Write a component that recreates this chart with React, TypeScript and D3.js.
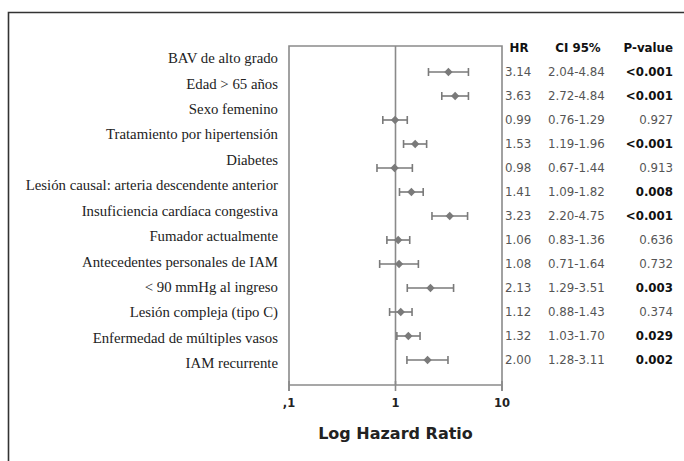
import React from "react";
import * as d3 from "d3";

const labels = [
  "BAV de alto grado",
  "Edad > 65 años",
  "Sexo femenino",
  "Tratamiento por hipertensión",
  "Diabetes",
  "Lesión causal: arteria descendente anterior",
  "Insuficiencia cardíaca congestiva",
  "Fumador actualmente",
  "Antecedentes personales de IAM",
  "< 90 mmHg al ingreso",
  "Lesión compleja (tipo C)",
  "Enfermedad de múltiples vasos",
  "IAM recurrente",
];
const hr = [3.14, 3.63, 0.99, 1.53, 0.98, 1.41, 3.23, 1.06, 1.08, 2.13, 1.12, 1.32, 2.0];
const ciLow = [2.04, 2.72, 0.76, 1.19, 0.67, 1.09, 2.2, 0.83, 0.71, 1.29, 0.88, 1.03, 1.28];
const ciHigh = [4.84, 4.84, 1.29, 1.96, 1.44, 1.82, 4.75, 1.36, 1.64, 3.51, 1.43, 1.7, 3.11];
const pValues = ["<0.001", "<0.001", "0.927", "<0.001", "0.913", "0.008", "<0.001", "0.636", "0.732", "0.003", "0.374", "0.029", "0.002"];
const pBold = [true, true, false, true, false, true, true, false, false, true, false, true, true];
const tickValues = [0.1, 1, 10];
const tickLabels = [",1", "1", "10"];
const headers = ["HR", "CI 95%", "P-value"];

export default function App() {
  const W = 684, H = 461;
  const x = d3.scaleLog().domain([0.1, 10]).range([289, 502]);
  const idx = labels.map((_, i) => i);
  const y = d3.scalePoint<number>().domain(idx).range([72, 360]);
  const yl = d3.scalePoint<number>().domain(idx).range([58, 363]);
  const plotTop = 46, plotBottom = 385;
  const gray = "#8a8a8a";
  const mark = "#7a7a7a";
  const serif = "'Liberation Serif', 'Times New Roman', serif";
  const sans = "'DejaVu Sans', Verdana, sans-serif";
  const diamond = d3.symbol().type(d3.symbolDiamond2).size(44)() as string;
  const tfs = 11.8;

  return (
    <svg width={W} height={H} style={{ position: "absolute", left: 0, top: 0, background: "#fff" }}>
      <rect x={0} y={0} width={W} height={H} fill="#fff" />
      {/* outer frame (left + top) */}
      <path d={`M8.5,${H} L8.5,12.5 L${W},12.5`} fill="none" stroke="#333" strokeWidth={1.6} />
      {/* plot box */}
      <path
        d={`M${x(0.1)},${plotBottom + 6} L${x(0.1)},${plotTop} L${x(10)},${plotTop} L${x(10)},${plotBottom + 6}`}
        fill="none" stroke={gray} strokeWidth={1.6}
      />
      <line x1={x(0.1)} x2={x(10)} y1={plotBottom} y2={plotBottom} stroke={gray} strokeWidth={1.6} />
      {tickValues.map((t) => (
        <line key={"t" + t} x1={x(t)} x2={x(t)} y1={plotBottom - 4} y2={plotBottom + 6} stroke={gray} strokeWidth={1.6} />
      ))}
      {/* reference line at 1 */}
      <line x1={x(1)} x2={x(1)} y1={plotTop} y2={plotBottom} stroke={gray} strokeWidth={1.6} />
      {tickValues.map((t, i) => (
        <text key={"tl" + t} x={x(t)} y={403} dy="0.35em" textAnchor="middle" fontFamily={sans} fontWeight="bold" fontSize={11.5} fill="#222">
          {tickLabels[i]}
        </text>
      ))}
      <text x={x(1)} y={433} dy="0.35em" textAnchor="middle" fontFamily={sans} fontWeight="bold" fontSize={16} fill="#222">
        Log Hazard Ratio
      </text>
      {/* estimates */}
      {idx.map((i) => {
        const yy = y(i)!;
        const x0 = x(ciLow[i]), x1 = x(ciHigh[i]);
        return (
          <g key={"m" + i}>
            <line x1={x0} x2={x1} y1={yy} y2={yy} stroke={mark} strokeWidth={1.6} />
            <line x1={x0} x2={x0} y1={yy - 4} y2={yy + 4} stroke={mark} strokeWidth={1.6} />
            <line x1={x1} x2={x1} y1={yy - 4} y2={yy + 4} stroke={mark} strokeWidth={1.6} />
            <path d={diamond} transform={`translate(${x(hr[i])},${yy})`} fill={mark} />
          </g>
        );
      })}
      {/* labels */}
      {idx.map((i) => (
        <text key={"l" + i} x={278} y={yl(i)!} dy="0.35em" textAnchor="end" fontFamily={serif} fontSize={14.8} fill="#222">
          {labels[i]}
        </text>
      ))}
      {/* table headers */}
      <text x={519} y={48} dy="0.35em" textAnchor="middle" fontFamily={sans} fontWeight="bold" fontSize={tfs} fill="#111">{headers[0]}</text>
      <text x={578} y={48} dy="0.35em" textAnchor="middle" fontFamily={sans} fontWeight="bold" fontSize={tfs} fill="#111">{headers[1]}</text>
      <text x={673} y={48} dy="0.35em" textAnchor="end" fontFamily={sans} fontWeight="bold" fontSize={tfs} fill="#111">{headers[2]}</text>
      {idx.map((i) => (
        <g key={"r" + i}>
          <text x={505} y={y(i)!} dy="0.35em" fontFamily={sans} fontSize={tfs} fill="#555">{hr[i].toFixed(2)}</text>
          <text x={548} y={y(i)!} dy="0.35em" fontFamily={sans} fontSize={tfs} fill="#555">
            {ciLow[i].toFixed(2)}-{ciHigh[i].toFixed(2)}
          </text>
          <text x={673} y={y(i)!} dy="0.35em" textAnchor="end" fontFamily={sans} fontSize={tfs}
            fontWeight={pBold[i] ? "bold" : "normal"} fill={pBold[i] ? "#111" : "#555"}>
            {pValues[i]}
          </text>
        </g>
      ))}
    </svg>
  );
}
